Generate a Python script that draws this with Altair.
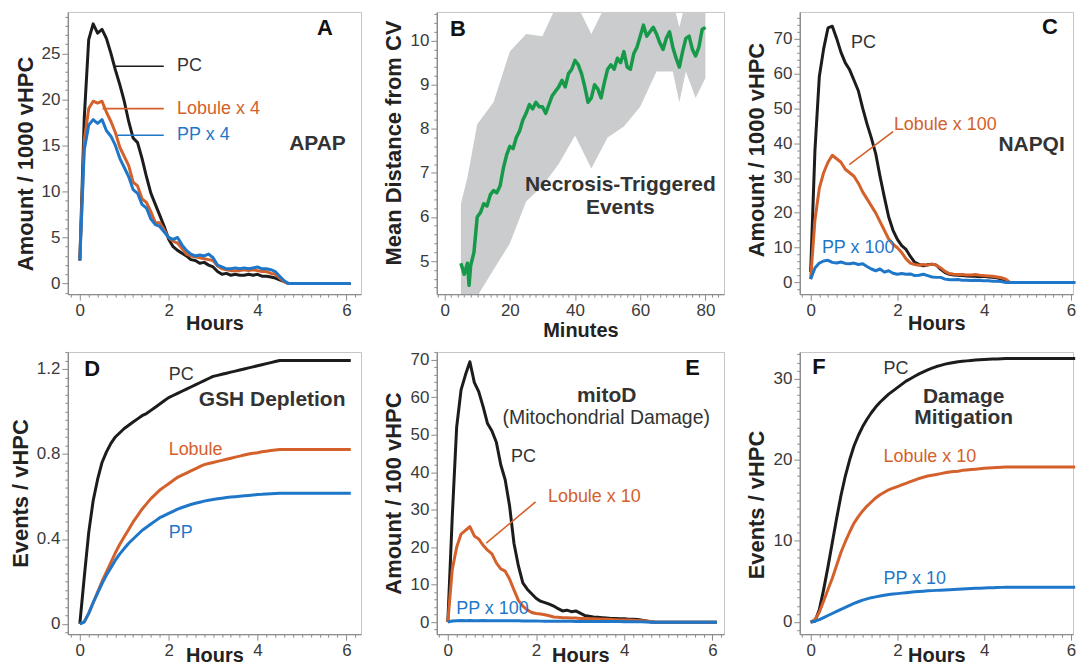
import math
import altair as alt
import pandas as pd

FONT = "Liberation Sans"
BLACK = "#1c1c1c"
ORANGE = "#d4612b"
BLUE = "#1f77c9"
GREEN = "#17994a"
BAND = "#cbcccd"
TXT = "#333333"

# ---------------- data ----------------
HOURS = [round(0.1 * i, 1) for i in range(48)] + [6.1]

A_PC = [2.5, 18, 26.5, 28.2, 27.2, 27.6, 26.6, 25.0, 23.2, 21.6, 19.8, 17.6, 15.8, 15.3, 13.6, 11.6, 9.8, 8.6, 7.4, 6.2,
        4.8, 4.0, 3.6, 3.3, 3.0, 2.6, 2.5, 2.2, 2.3, 2.0, 1.8, 1.3, 1.0, 1.1, 0.9, 1.0, 0.9, 0.9, 1.0, 0.9,
        1.0, 0.8, 0.8, 0.7, 0.6, 0.4, 0.2, 0.0, 0.0]
A_LOB = [2.5, 15.5, 19.0, 19.8, 19.6, 19.8, 18.6, 17.6, 16.4, 14.8, 13.8, 12.8, 11.0, 10.6, 9.2, 8.8, 7.8, 6.6, 6.6, 5.8,
         5.0, 4.6, 4.4, 3.8, 3.2, 3.0, 2.9, 2.8, 2.7, 2.6, 2.5, 1.9, 1.6, 1.5, 1.4, 1.4, 1.4, 1.5, 1.4, 1.5,
         1.4, 1.3, 1.3, 1.1, 1.0, 0.6, 0.2, 0.0, 0.0]
A_PP = [2.5, 14.5, 17.2, 17.8, 17.4, 17.8, 16.6, 16.0, 15.0, 13.6, 12.6, 11.6, 10.2, 9.8, 8.6, 8.2, 7.0, 6.4, 6.2, 5.6,
        5.0, 4.8, 5.0, 4.2, 3.6, 3.2, 3.0, 3.1, 3.0, 3.2, 2.8, 2.0, 1.8, 1.6, 1.6, 1.7, 1.6, 1.7, 1.6, 1.7,
        1.8, 1.6, 1.6, 1.5, 1.3, 0.8, 0.3, 0.0, 0.0]

C_PC = [3, 38, 59, 67, 73, 73.5, 70, 66, 63, 61, 58, 55, 50, 45.5, 41.5, 37, 30.5, 24.5, 18.8, 15,
        12.4, 10.6, 9.5, 7.5, 5.8, 5.2, 4.8, 5.1, 5.3, 5.0, 3.8, 2.9, 2.4, 2.2, 2.1, 2.0, 1.9, 1.8, 1.8, 1.7,
        1.8, 1.6, 1.5, 1.4, 1.0, 0.6, 0.0, 0.0, 0.0]
C_LOB = [1, 18, 27, 31.5, 34.5, 36.5, 35.5, 34.5, 32.5, 31.5, 30.5, 28.5, 26, 24, 22, 20, 17.5, 15, 12.5, 11,
         10, 8.6, 6.8, 5.6, 5.2, 5.0, 5.2, 5.0, 5.3, 5.0, 4.2, 3.2, 2.6, 2.4, 2.3, 2.3, 2.2, 2.2, 2.3, 2.1,
         2.0, 1.9, 1.8, 1.6, 1.4, 1.0, 0.0, 0.0, 0.0]
C_PP = [1, 4.2, 5.6, 6.2, 6.4, 5.8, 5.6, 5.9, 5.5, 5.4, 5.6, 5.2, 5.4, 4.6, 3.9, 3.4, 3.9, 3.0, 3.4, 2.7,
        2.4, 2.6, 2.4, 2.5, 2.0, 2.1, 2.4, 2.0, 1.6, 1.5, 1.5, 1.0, 0.8, 0.8, 0.9, 0.7, 0.7, 0.6, 0.7, 0.6,
        0.5, 0.5, 0.4, 0.4, 0.3, 0.0, 0.0, 0.0, 0.0]

D_PC = [0, 0.22, 0.43, 0.58, 0.68, 0.76, 0.81, 0.85, 0.88, 0.9, 0.92, 0.935, 0.95, 0.965, 0.98, 0.99, 1.005, 1.02,
        1.035, 1.05, 1.065, 1.075, 1.085, 1.095, 1.105, 1.115, 1.125, 1.135, 1.145, 1.155, 1.165, 1.17, 1.175,
        1.18, 1.185, 1.19, 1.195, 1.2, 1.205, 1.21, 1.215, 1.22, 1.225, 1.23, 1.235, 1.24, 1.24, 1.24, 1.24]
D_LOB = [0, 0.01, 0.05, 0.1, 0.15, 0.2, 0.245, 0.29, 0.335, 0.375, 0.41, 0.445, 0.48, 0.51, 0.54, 0.565, 0.59, 0.61,
         0.63, 0.645, 0.66, 0.675, 0.69, 0.70, 0.71, 0.72, 0.73, 0.74, 0.75, 0.755, 0.76, 0.765, 0.77, 0.775,
         0.78, 0.785, 0.79, 0.795, 0.80, 0.803, 0.806, 0.81, 0.813, 0.816, 0.819, 0.821, 0.821, 0.821, 0.821]
D_PP = [0, 0.01, 0.05, 0.1, 0.145, 0.19, 0.23, 0.265, 0.3, 0.33, 0.355, 0.38, 0.40, 0.42, 0.44, 0.455, 0.47, 0.485,
        0.50, 0.51, 0.52, 0.53, 0.54, 0.548, 0.555, 0.562, 0.568, 0.573, 0.578, 0.582, 0.586, 0.589, 0.592,
        0.595, 0.597, 0.599, 0.601, 0.603, 0.605, 0.607, 0.609, 0.61, 0.612, 0.613, 0.614, 0.615, 0.615, 0.615, 0.615]

E_PC = [0, 28, 52, 62, 66, 69.5, 64, 61.5, 57.5, 53, 51, 48, 42, 38, 31, 21, 15, 10.5, 8.8, 7.6,
        6.4, 5.6, 5.2, 4.8, 4.3, 3.6, 3.0, 3.2, 2.8, 3.0, 2.4, 1.8, 1.6, 1.4, 1.3, 1.2, 1.1, 1.0, 1.0, 0.9,
        0.9, 0.8, 0.8, 0.7, 0.5, 0.3, 0.1, 0.0, 0.0]
E_LOB = [0, 14, 20, 23.5, 24.5, 25.5, 23, 22.2, 20.5, 19.2, 18.2, 15.8, 14.2, 13.6, 11.5, 8.6, 5.8, 4.3, 3.3, 2.6,
         2.3, 2.2, 2.0, 1.7, 1.4, 1.3, 1.2, 1.2, 1.1, 1.1, 1.0, 0.95, 0.9, 0.9, 0.85, 0.8, 0.75, 0.7, 0.65, 0.6,
         0.6, 0.55, 0.5, 0.45, 0.4, 0.3, 0.1, 0.0, 0.0]
E_PP = [0, 0.3, 0.4, 0.45, 0.4, 0.45, 0.4, 0.4, 0.45, 0.4, 0.4, 0.4, 0.38, 0.38, 0.36, 0.35, 0.35, 0.33, 0.32, 0.3,
        0.3, 0.28, 0.27, 0.26, 0.25, 0.24, 0.23, 0.22, 0.22, 0.21, 0.2, 0.2, 0.19, 0.18, 0.18, 0.17, 0.16, 0.16,
        0.15, 0.15, 0.14, 0.13, 0.12, 0.1, 0.08, 0.05, 0.0, 0.0, 0.0]

F_PC = [0, 0.1, 1.5, 4.0, 6.8, 9.8, 12.8, 15.6, 18.0, 20.0, 21.7, 23.0, 24.1, 25.0, 25.8, 26.5, 27.1, 27.6, 28.1,
        28.5, 28.9, 29.3, 29.7, 30.0, 30.3, 30.6, 30.85, 31.1, 31.3, 31.5, 31.65, 31.8, 31.9, 32.0, 32.1, 32.15,
        32.2, 32.25, 32.3, 32.33, 32.36, 32.4, 32.42, 32.44, 32.46, 32.48, 32.5, 32.5, 32.5]
F_LOB = [0, 0.3, 1.2, 2.6, 4.0, 5.4, 7.0, 8.6, 9.9, 11.1, 12.2, 13.0, 13.7, 14.3, 14.8, 15.3, 15.7, 16.0, 16.3,
         16.5, 16.7, 16.9, 17.1, 17.3, 17.5, 17.7, 17.85, 18.0, 18.1, 18.2, 18.3, 18.4, 18.5, 18.55, 18.6, 18.7,
         18.75, 18.8, 18.85, 18.9, 18.95, 19.0, 19.02, 19.05, 19.08, 19.1, 19.1, 19.1, 19.1]
F_PP = [0, 0.1, 0.3, 0.55, 0.8, 1.05, 1.3, 1.55, 1.8, 2.05, 2.3, 2.5, 2.7, 2.85, 3.0, 3.1, 3.2, 3.3, 3.4, 3.45,
        3.5, 3.56, 3.62, 3.67, 3.72, 3.76, 3.8, 3.84, 3.87, 3.9, 3.93, 3.96, 3.99, 4.02, 4.05, 4.08, 4.1, 4.12,
        4.15, 4.17, 4.19, 4.21, 4.23, 4.25, 4.27, 4.3, 4.3, 4.3, 4.3]

MINUTES = [5, 6, 7, 7.5, 8] + list(range(9, 81))
B_MEAN = [4.95, 4.7, 4.95, 4.45, 4.9, 5.2, 6.0, 6.1, 6.3, 6.25, 6.5, 6.6, 6.55, 6.7, 7.1, 7.4, 7.6, 7.55, 7.8, 7.95,
          8.2, 8.35, 8.55, 8.45, 8.6, 8.5, 8.5, 8.35, 8.55, 8.75, 8.85, 8.95, 9.1, 8.95, 9.25, 9.35, 9.55, 9.45,
          9.25, 8.95, 8.6, 8.7, 9.0, 8.9, 8.7, 9.05, 9.35, 9.45, 9.35, 9.6, 9.5, 9.75, 9.4, 9.35, 9.7, 9.85,
          10.1, 10.35, 10.1, 10.2, 10.3, 10.15, 9.95, 9.8, 10.05, 10.2, 9.85, 9.6, 9.4, 9.75, 10.05, 10.1, 9.8,
          9.65, 9.85, 10.25, 10.3]
BAND_MIN = [5, 7, 10, 15, 20, 25, 30, 35, 40, 45, 50, 55, 60, 65, 70, 72, 74, 77, 80]
BAND_HI = [6.3, 6.9, 8.1, 8.6, 9.75, 10.15, 10.1, 10.9, 10.9, 10.15, 10.9, 10.9, 10.9, 10.9, 10.9, 10.3, 10.9, 10.9, 10.9]
BAND_LO = [4.0, 4.0, 4.2, 4.8, 5.4, 6.35, 6.7, 7.2, 7.85, 7.1, 7.8, 8.05, 8.5, 9.3, 9.3, 8.6, 9.3, 8.7, 9.15]


def frame(xs, ys):
    assert len(xs) == len(ys), (len(xs), len(ys))
    return pd.DataFrame({"x": xs, "y": ys})


# ---------------- helpers ----------------
def make_axis(title, lo, hi, step, major, title_pad, title_y=None):
    i0 = math.ceil(lo / step - 1e-9)
    i1 = math.floor(hi / step + 1e-9)
    vals = [round(i * step, 4) for i in range(i0, i1 + 1)]
    test = f"abs(datum.value/{major} - round(datum.value/{major})) < 0.001"
    kw = {}
    if title_y is not None:
        kw["titleY"] = title_y
    return alt.Axis(
        title=title, values=vals, grid=False,
        labelExpr=f"({test}) ? format(datum.value, '~g') : ''",
        labelFontSize={"condition": {"test": test, "value": 17}, "value": 0},
        tickSize={"condition": {"test": test, "value": 6}, "value": 3},
        titlePadding=title_pad, labelOverlap=False, labelFlush=False, **kw,
    )


class Panel:
    def __init__(self, xdom, ydom, xaxis, yaxis, width, height):
        self.X = alt.X("x:Q", scale=alt.Scale(domain=xdom, nice=False, zero=False), axis=xaxis)
        self.Y = alt.Y("y:Q", scale=alt.Scale(domain=ydom, nice=False, zero=False), axis=yaxis)
        self.layers = []
        self.w, self.h = width, height

    def line(self, xs, ys, color, sw=3):
        self.layers.append(alt.Chart(frame(xs, ys)).mark_line(
            color=color, strokeWidth=sw, strokeJoin="round").encode(x=self.X, y=self.Y))

    def leader(self, x1, y1, x2, y2, color):
        df = pd.DataFrame({"x": [x1], "y": [y1], "x2": [x2], "y2": [y2]})
        self.layers.append(alt.Chart(df).mark_rule(color=color, strokeWidth=1.6).encode(
            x=self.X, y=self.Y, x2="x2:Q", y2="y2:Q"))

    def text(self, t, x, y, size=18, weight="normal", color=TXT, align="left"):
        df = pd.DataFrame({"x": [x], "y": [y], "t": [t]})
        self.layers.append(alt.Chart(df).mark_text(
            align=align, baseline="middle", font=FONT, fontSize=size, fontWeight=weight, color=color
        ).encode(x=self.X, y=self.Y, text="t:N"))

    def chart(self):
        return alt.layer(*self.layers).properties(width=self.w, height=self.h)


W1, W2, W3, H = 294, 288, 274, 283
TP_ROW1, TP_ROW2 = -5, -13
YTP = 4
BIG = 21      # bold panel captions
LET = 22      # panel letters

# ---- A ----
A_X = (-0.27, 6.33); A_Y = (-1.15, 29.5)
pA = Panel(A_X, A_Y, make_axis("Hours", *A_X, 0.2, 2, TP_ROW1),
           make_axis("Amount / 1000 vHPC", *A_Y, 1, 5, YTP, 152), W1, H)
pA.line(HOURS, A_PC, BLACK)
pA.line(HOURS, A_LOB, ORANGE)
pA.line(HOURS, A_PP, BLUE)
pA.leader(0.77, 23.6, 1.89, 23.6, BLACK)
pA.leader(0.51, 19.0, 1.89, 19.0, ORANGE)
pA.leader(0.85, 16.1, 1.89, 16.1, BLUE)
pA.text("PC", 2.19, 23.6)
pA.text("Lobule x 4", 2.19, 19.0, color=ORANGE)
pA.text("PP x 4", 2.19, 16.1, color=BLUE)
pA.text("APAP", 5.35, 15.1, size=BIG, weight="bold", align="center")
pA.text("A", 5.52, 27.7, size=LET, weight="bold", color="#111111", align="center")

# ---- B ----
B_X = (-2.4, 85.7); B_Y = (4.25, 10.65)
pB = Panel(B_X, B_Y, make_axis("Minutes", *B_X, 2, 20, 2),
           make_axis("Mean Distance from CV", *B_Y, 0.2, 1, YTP, 131), W2, H)
band = pd.DataFrame({"x": BAND_MIN, "y": BAND_LO, "hi": BAND_HI})
pB.layers.append(alt.Chart(band).mark_area(color=BAND, clip=True).encode(
    x=pB.X, y=pB.Y, y2="hi:Q"))
pB.line(MINUTES, B_MEAN, GREEN, sw=3.5)
pB.text("Necrosis-Triggered", 53.9, 6.72, size=BIG, weight="bold", align="center")
pB.text("Events", 53.9, 6.2, size=BIG, weight="bold", align="center")
pB.text("B", 4.05, 10.26, size=LET, weight="bold", color="#111111", align="center")

# ---- C ----
C_X = (-0.25, 6.05); C_Y = (-3.3, 77.6)
pC = Panel(C_X, C_Y, make_axis("Hours", *C_X, 0.2, 2, TP_ROW1),
           make_axis("Amount / 1000 vHPC", *C_Y, 2, 10, YTP, 138), W3, H)
pC.line(HOURS, C_PC, BLACK)
pC.line(HOURS, C_LOB, ORANGE)
pC.line(HOURS, C_PP, BLUE)
pC.leader(0.89, 33.8, 1.9, 43.3, ORANGE)
pC.text("PC", 0.93, 68.6)
pC.text("Lobule x 100", 1.92, 45.2, color=ORANGE)
pC.text("NAPQI", 4.33, 39.5, size=BIG, weight="bold")
pC.text("PP x 100", 0.26, 10.0, color=BLUE)
pC.text("C", 5.52, 73.3, size=LET, weight="bold", color="#111111", align="center")

# ---- D ----
D_X = A_X; D_Y = (-0.048, 1.28)
pD = Panel(D_X, D_Y, make_axis("Hours", *D_X, 0.2, 2, TP_ROW2),
           make_axis("Events / vHPC", *D_Y, 0.04, 0.4, YTP), W1, H)
pD.line(HOURS, D_PC, BLACK)
pD.line(HOURS, D_LOB, ORANGE)
pD.line(HOURS, D_PP, BLUE)
pD.text("PC", 2.0, 1.17)
pD.text("GSH Depletion", 2.68, 1.055, size=BIG, weight="bold")
pD.text("Lobule", 2.0, 0.82, color=ORANGE)
pD.text("PP", 2.0, 0.43, color=BLUE)
pD.text("D", 0.28, 1.2, size=LET, weight="bold", color="#111111", align="center")

# ---- E ----
E_X = (-0.25, 6.26); E_Y = (-3.2, 72.1)
pE = Panel(E_X, E_Y, make_axis("Hours", *E_X, 0.2, 2, TP_ROW2),
           make_axis("Amount / 100 vHPC", *E_Y, 2, 10, YTP), W2, H)
pE.line(HOURS, E_PC, BLACK)
pE.line(HOURS, E_LOB, ORANGE)
pE.line(HOURS, E_PP, BLUE)
pE.leader(0.87, 21.1, 1.99, 32.1, ORANGE)
pE.text("mitoD", 3.6, 60.3, size=BIG, weight="bold", align="center")
pE.text("(Mitochondrial Damage)", 3.59, 54.6, size=19.5, align="center")
pE.text("PC", 1.43, 44.0)
pE.text("Lobule x 10", 2.27, 33.5, color=ORANGE)
pE.text("PP x 100", 0.19, 3.5, color=BLUE)
pE.text("E", 5.55, 67.8, size=LET, weight="bold", color="#111111", align="center")

# ---- F ----
F_X = C_X; F_Y = (-1.5, 33.3)
pF = Panel(F_X, F_Y, make_axis("Hours", *F_X, 0.2, 2, TP_ROW2),
           make_axis("Events / vHPC", *F_Y, 1, 10, YTP, 153), W3, H)
pF.line(HOURS, F_PC, BLACK)
pF.line(HOURS, F_LOB, ORANGE)
pF.line(HOURS, F_PP, BLUE)
pF.text("PC", 1.68, 31.2)
pF.text("Damage", 3.53, 27.8, size=BIG, weight="bold", align="center")
pF.text("Mitigation", 3.53, 25.1, size=BIG, weight="bold", align="center")
pF.text("Lobule x 10", 1.68, 20.3, color=ORANGE)
pF.text("PP x 10", 1.68, 5.3, color=BLUE)
pF.text("F", 0.19, 31.4, size=LET, weight="bold", color="#111111", align="center")

chart = alt.concat(
    pA.chart(), pB.chart(), pC.chart(), pD.chart(), pE.chart(), pF.chart(),
    columns=3, spacing={"row": 58, "column": 76}, bounds="flush",
).properties(
    padding={"left": 0, "top": 2, "right": 0, "bottom": 0}
).resolve_scale(x="independent", y="independent").configure(background="white").configure_axis(
    domainColor="#8c8c8c", domainWidth=1.4, tickColor="#8c8c8c", tickWidth=1,
    labelFont=FONT, labelColor="#3a3a3a", labelPadding=2,
    titleFont=FONT, titleFontSize=22, titleFontWeight="bold", titleColor="#222222",
).configure_axisX(titleFontSize=20).configure_view(stroke="#c4c4c4", strokeWidth=1)

chart.save("out.html", embed_options={"renderer": "svg", "actions": False})
